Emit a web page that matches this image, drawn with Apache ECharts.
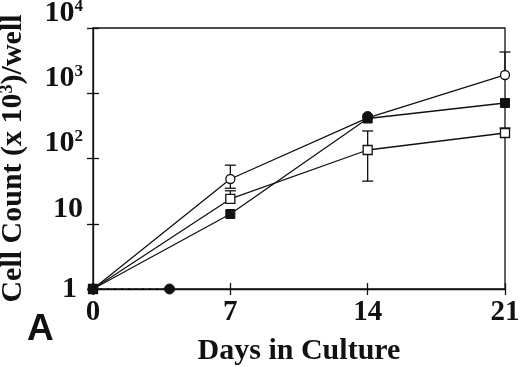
<!DOCTYPE html>
<html>
<head>
<meta charset="utf-8">
<script src="https://cdn.jsdelivr.net/npm/echarts@6/dist/echarts.min.js"></script>
<style>
  html, body { margin: 0; padding: 0; background: #fff; }
  #chart { width: 520px; height: 367px; }
</style>
</head>
<body>
<div id="chart"></div>
<script>
// Days in culture
const days = [0, 7, 14, 21];
const xTicks = [0, 7, 14, 21];

// Cell count (x 10^3)/well
const openCircle = [1, 48.5, 418, 1905];
const openSquare = [1, 24, 135, 246];
const filledSquare = [1, 14.1, 410, 709];

// filled circle: dotted segment along the baseline, then a lone point at day 14
const filledCircleDays = [0, 3.9, null, 14];
const filledCircleVals = [1, 1, null, 440];

// error bars (mean, low, high); low == mean means no lower whisker drawn
const errDays = [7, 7, 14, 21, 21];
const errMean = [48.5, 24, 135, 1905, 246];
const errLow = [35, 24, 45, 1905, 246];
const errHigh = [79, 32, 264, 4285, 293];

const serif = 'Liberation Serif';
const ink = '#111';

const chart = echarts.init(document.getElementById('chart'));

function pairs(xs, ys) {
    return xs.map((x, i) => (x === null ? '-' : [x, ys[i]]));
}

const errData = errDays.map((d, i) => [d, errMean[i], errLow[i], errHigh[i]]);

const lineBase = {
    type: 'line',
    symbolSize: 9,
    lineStyle: { color: ink, width: 1.3 },
    animation: false,
};

const option = {
    animation: false,
    grid: {
        left: 93, right: 15, top: 28, bottom: 78,
        outerBoundsMode: 'none',
        containLabel: false,
        show: true, borderColor: ink, borderWidth: 1.3,
        backgroundColor: 'transparent',
    },
    xAxis: [
        {
            type: 'value', min: 0, max: 21, interval: 7,
            axisLine: { show: true, lineStyle: { color: ink, width: 1.3 } },
            axisTick: { show: true, length: 6, lineStyle: { color: ink, width: 1.3 } },
            axisLabel: {
                margin: 9, fontFamily: serif, fontWeight: 'bold', fontSize: 29, color: ink,
            },
            splitLine: { show: false },
            name: 'Days in Culture',
            nameLocation: 'middle',
            nameGap: 47,
            nameTextStyle: { fontFamily: serif, fontWeight: 'bold', fontSize: 30, color: ink },
        },
        {
            type: 'value', min: 0, max: 21, interval: 7, position: 'bottom',
            axisLine: { show: false },
            axisTick: { show: true, inside: true, length: 6, lineStyle: { color: ink, width: 1.3 } },
            axisLabel: { show: false },
            splitLine: { show: false },
        },
    ],
    yAxis: [
        {
            type: 'log', logBase: 10, min: 1, max: 10000,
            axisLine: { show: true, lineStyle: { color: ink, width: 1.3 } },
            axisTick: { show: true, length: 6, lineStyle: { color: ink, width: 1.3 } },
            axisLabel: {
                margin: 10, fontFamily: serif, fontWeight: 'bold', fontSize: 30, color: ink,
                verticalAlign: 'bottom',
                formatter: (v) => {
                    if (v <= 1) return '';
                    if (v <= 10) return '10';
                    return '10{s|' + Math.round(Math.log10(v)) + '}';
                },
                rich: {
                    s: { fontFamily: serif, fontWeight: 'bold', fontSize: 17, color: ink, verticalAlign: 'top', lineHeight: 30 },
                },
            },
            splitLine: { show: false },
            minorSplitLine: { show: false },
            name: 'Cell Count (x 10{s|3})/well',
            nameLocation: 'middle',
            nameRotate: 90,
            nameGap: 65,
            nameTextStyle: {
                fontFamily: serif, fontWeight: 'bold', fontSize: 30, color: ink,
                rich: {
                    s: { fontFamily: serif, fontWeight: 'bold', fontSize: 18, color: ink, verticalAlign: 'top', lineHeight: 30 },
                },
            },
        },
        {
            // inside half of the crossing ticks, plus the "1" label centred on its tick
            type: 'log', logBase: 10, min: 1, max: 10000, position: 'left',
            axisLine: { show: false },
            axisTick: { show: true, inside: true, length: 6, lineStyle: { color: ink, width: 1.3 } },
            axisLabel: {
                show: true, margin: 16, fontFamily: serif, fontWeight: 'bold', fontSize: 30, color: ink,
                verticalAlign: 'middle',
                formatter: (v) => (v <= 1 ? '1' : ''),
            },
            splitLine: { show: false },
        },
    ],
    graphic: [
        {
            type: 'text', left: 27, top: 311,
            style: { text: 'A', font: 'bold 37px "Liberation Sans"', fill: ink },
        },
    ],
    series: [
        {
            ...lineBase,
            data: pairs(days, openCircle),
            symbol: 'circle',
            itemStyle: { color: '#fff', borderColor: ink, borderWidth: 1.3 },
            z: 3,
        },
        {
            ...lineBase,
            data: pairs(days, openSquare),
            symbol: 'rect',
            itemStyle: { color: '#fff', borderColor: ink, borderWidth: 1.3 },
            z: 3,
        },
        {
            ...lineBase,
            data: pairs(days, filledSquare),
            symbol: 'rect',
            itemStyle: { color: ink, borderColor: ink, borderWidth: 1 },
            z: 4,
        },
        {
            ...lineBase,
            data: pairs(filledCircleDays, filledCircleVals),
            symbol: 'circle',
            symbolSize: 10,
            connectNulls: false,
            lineStyle: { color: ink, width: 1.5, type: [2, 5] },
            itemStyle: { color: ink, borderColor: ink, borderWidth: 1 },
            z: 5,
        },
        {
            type: 'custom',
            data: errData,
            z: 2,
            renderItem: (params, api) => {
                const x = api.value(0);
                const mean = api.value(1);
                const lo = api.value(2);
                const hi = api.value(3);
                const pLo = api.coord([x, lo]);
                const pHi = api.coord([x, hi]);
                const half = 5.5;
                const style = { stroke: ink, lineWidth: 1.3 };
                const children = [
                    { type: 'line', shape: { x1: pLo[0], y1: pLo[1], x2: pHi[0], y2: pHi[1] }, style },
                    { type: 'line', shape: { x1: pHi[0] - half, y1: pHi[1], x2: pHi[0] + half, y2: pHi[1] }, style },
                ];
                if (lo < mean) {
                    children.push({ type: 'line', shape: { x1: pLo[0] - half, y1: pLo[1], x2: pLo[0] + half, y2: pLo[1] }, style });
                }
                return { type: 'group', children };
            },
        },
    ],
};

chart.setOption(option);
</script>
</body>
</html>
